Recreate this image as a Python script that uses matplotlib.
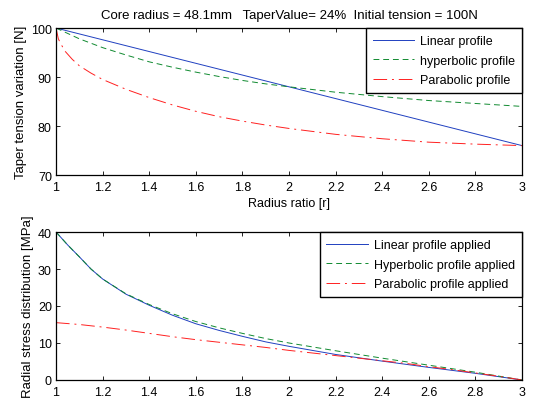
import matplotlib

matplotlib.use("Agg")
import matplotlib.pyplot as plt

plt.rcParams["font.family"] = ["Liberation Sans", "DejaVu Sans"]
plt.rcParams["font.size"] = 9

# tensao de bobinamento (painel superior)
R_LIN = [1.0, 3.0]
T_LIN = [100.0, 76.0]

R_HIP = [1.0, 1.1, 1.2, 1.3, 1.4, 1.5, 1.6, 1.7, 1.8, 1.9, 2.0, 2.2, 2.4, 2.6, 2.8, 3.0]
T_HIP = [100.0, 97.8, 96.0, 94.5, 93.1, 92.0, 91.0, 90.1, 89.3, 88.6, 88.0, 86.9, 86.0, 85.2, 84.6, 84.0]

R_PAR = [1.0, 1.01, 1.02, 1.04, 1.07, 1.1, 1.15, 1.2, 1.3, 1.4, 1.5, 1.6, 1.7, 1.8, 1.9,
         2.0, 2.2, 2.4, 2.6, 2.8, 3.0]
T_PAR = [100.0, 97.8, 96.8, 95.2, 93.6, 92.3, 90.8, 89.5, 87.5, 85.8, 84.3, 83.0, 81.9, 81.0, 80.2,
         79.5, 78.3, 77.4, 76.7, 76.3, 76.0]

# tensao radial (painel inferior)
R_RAD = [1.0, 1.05, 1.1, 1.15, 1.2, 1.3, 1.4, 1.5, 1.6, 1.7, 1.8, 1.9, 2.0, 2.2, 2.4, 2.6, 2.8, 3.0]
S_LIN = [40.0, 36.5, 33.3, 30.0, 27.3, 23.2, 20.2, 17.5, 15.2, 13.4, 11.8, 10.3, 9.1, 6.9, 5.1, 3.4, 1.8, 0.0]
S_HIP = [40.0, 36.5, 33.3, 30.0, 27.3, 23.3, 20.4, 17.9, 15.8, 14.1, 12.6, 11.2, 10.0, 7.9, 5.9, 4.0, 2.1, 0.0]

R_PAR2 = [1.0, 1.1, 1.2, 1.3, 1.4, 1.5, 1.6, 1.7, 1.8, 1.9, 2.0, 2.1, 2.2, 2.3, 2.4, 2.5, 2.6, 2.7, 2.8, 2.9, 3.0]
S_PAR = [15.5, 15.0, 14.3, 13.5, 12.6, 11.7, 10.9, 10.2, 9.5, 8.8, 8.0, 7.3, 6.6, 5.9, 5.2, 4.5, 3.6, 2.8, 1.9, 1.0, 0.0]

X_TICKS = [1, 1.2, 1.4, 1.6, 1.8, 2, 2.2, 2.4, 2.6, 2.8, 3]
X_LABELS = ["1", "1.2", "1.4", "1.6", "1.8", "2", "2.2", "2.4", "2.6", "2.8", "3"]

AZUL = "#2040c0"
VERDE = "#108a30"
VERMELHO = "#ff2020"
TRACO_VERDE = (0, (6, 4))
TRACO_VERMELHO = (0, (14, 5, 2, 5))


def _estilo(ax):
    ax.set_xlim(1, 3)
    ax.set_xticks(X_TICKS)
    ax.set_xticklabels(X_LABELS)
    ax.tick_params(direction="in", top=True, right=True, length=3, width=0.6, pad=3)
    ax.tick_params(axis="x", pad=4)
    for s in ax.spines.values():
        s.set_linewidth(0.9)


def _legenda(ax):
    leg = ax.legend(loc="upper right", fancybox=False, edgecolor="black", framealpha=1,
                    borderaxespad=0, handlelength=3.3, handletextpad=0.5, labelspacing=0.62,
                    borderpad=0.55, fontsize=9)
    leg.get_frame().set_linewidth(1.0)


fig = plt.figure(figsize=(5.35, 4.06), dpi=100)
ax1 = fig.add_axes([0.1047, 0.5665, 0.871, 0.362])
ax2 = fig.add_axes([0.1047, 0.0616, 0.871, 0.3645])

ax1.plot(R_LIN, T_LIN, color=AZUL, lw=0.7, label="Linear profile")
ax1.plot(R_HIP, T_HIP, color=VERDE, lw=0.7, linestyle=TRACO_VERDE, label="hyperbolic profile")
ax1.plot(R_PAR, T_PAR, color=VERMELHO, lw=0.7, linestyle=TRACO_VERMELHO, label="Parabolic profile")
_estilo(ax1)
ax1.set_ylim(70, 100)
ax1.set_yticks([70, 80, 90, 100])
ax1.set_xlabel("Radius ratio [r]", labelpad=3)
ax1.set_ylabel("Taper tension variation [N]", labelpad=3, fontsize=9.5)
ax1.set_title("Core radius = 48.1mm   TaperValue= 24%  Initial tension = 100N", pad=7, fontsize=9.5)
_legenda(ax1)

ax2.plot(R_RAD, S_LIN, color=AZUL, lw=0.7, label="Linear profile applied")
ax2.plot(R_RAD, S_HIP, color=VERDE, lw=0.7, linestyle=TRACO_VERDE, label="Hyperbolic profile applied")
ax2.plot(R_PAR2, S_PAR, color=VERMELHO, lw=0.7, linestyle=TRACO_VERMELHO, label="Parabolic profile applied")
_estilo(ax2)
ax2.set_ylim(0, 40)
ax2.set_yticks([0, 10, 20, 30, 40])
ax2.set_ylabel("Radial stress distribution [MPa]", labelpad=3, fontsize=9.5)
_legenda(ax2)

fig.savefig("out.png", dpi=100)
plt.close(fig)
